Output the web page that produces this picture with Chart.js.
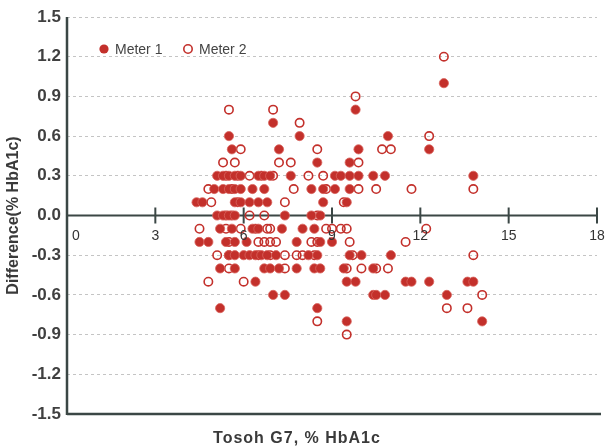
<!DOCTYPE html>
<html>
<head>
<meta charset="utf-8">
<script src="https://cdn.jsdelivr.net/npm/chart.js@4.4.1/dist/chart.umd.min.js"></script>
<style>
  html, body { margin: 0; padding: 0; background: #fff; }
  #wrap { width: 605px; height: 448px; }
</style>
</head>
<body>
<div id="wrap"><canvas id="diffChart" width="605" height="448"></canvas></div>
<script>
// --- Data (rows of 0.1 %HbA1c) ---
const xTicks = [0, 3, 6, 9, 12, 15, 18];
const yTicks = [-1.5, -1.2, -0.9, -0.6, -0.3, 0, 0.3, 0.6, 0.9, 1.2, 1.5];
const seriesNames = ['Meter 1', 'Meter 2'];

const meter1X = [
  12.8,
  9.8,
  7.0,
  5.5, 7.9, 10.9,
  5.6, 7.2, 9.9, 12.3,
  8.5, 9.6,
  5.1, 5.3, 5.5, 5.7, 5.9, 6.5, 6.7, 6.9, 7.6, 9.1, 9.3, 9.6, 9.9, 10.4, 10.8, 13.8,
  5.0, 5.3, 5.5, 5.7, 5.9, 6.3, 6.7, 8.3, 8.7, 9.1, 9.6,
  4.4, 4.6, 5.7, 5.9, 6.2, 6.5, 6.8, 8.7, 9.5,
  5.1, 5.3, 5.5, 5.7, 7.4, 8.3, 8.6,
  5.2, 5.6, 6.3, 6.5, 7.3, 8.0, 8.4,
  4.5, 4.8, 5.4, 5.7, 6.1, 7.8, 8.6, 9.0,
  5.5, 5.7, 6.0, 6.2, 6.4, 6.6, 6.8, 7.1, 8.2, 8.5, 9.6, 10.0, 11.0,
  5.2, 5.7, 6.7, 6.9, 7.2, 7.8, 8.4, 8.6, 9.4, 10.4,
  6.4, 9.5, 9.8, 11.5, 11.7, 12.3, 13.6, 13.8,
  7.0, 7.4, 10.4, 10.5, 10.8, 12.9,
  5.2, 8.5,
  9.5, 14.1
];
const meter1Y = [
  1.0,
  0.8,
  0.7,
  0.6, 0.6, 0.6,
  0.5, 0.5, 0.5, 0.5,
  0.4, 0.4,
  0.3, 0.3, 0.3, 0.3, 0.3, 0.3, 0.3, 0.3, 0.3, 0.3, 0.3, 0.3, 0.3, 0.3, 0.3, 0.3,
  0.2, 0.2, 0.2, 0.2, 0.2, 0.2, 0.2, 0.2, 0.2, 0.2, 0.2,
  0.1, 0.1, 0.1, 0.1, 0.1, 0.1, 0.1, 0.1, 0.1,
  0.0, 0.0, 0.0, 0.0, 0.0, 0.0, 0.0,
  -0.1, -0.1, -0.1, -0.1, -0.1, -0.1, -0.1,
  -0.2, -0.2, -0.2, -0.2, -0.2, -0.2, -0.2, -0.2,
  -0.3, -0.3, -0.3, -0.3, -0.3, -0.3, -0.3, -0.3, -0.3, -0.3, -0.3, -0.3, -0.3,
  -0.4, -0.4, -0.4, -0.4, -0.4, -0.4, -0.4, -0.4, -0.4, -0.4,
  -0.5, -0.5, -0.5, -0.5, -0.5, -0.5, -0.5, -0.5,
  -0.6, -0.6, -0.6, -0.6, -0.6, -0.6,
  -0.7, -0.7,
  -0.8, -0.8
];

const meter2X = [
  12.8,
  9.8,
  5.5, 7.0,
  7.9,
  12.3,
  5.9, 8.5, 10.7, 11.0,
  5.3, 5.7, 7.2, 7.6, 9.9,
  5.4, 5.8, 6.2, 6.6, 7.0, 8.2, 8.7,
  4.8, 5.6, 7.7, 8.8, 9.9, 10.5, 11.7, 13.8,
  4.9, 5.8, 7.4, 9.4,
  5.4, 5.6, 6.2, 6.7, 8.5,
  4.5, 5.4, 5.9, 6.4, 6.8, 6.9, 8.8, 9.0, 9.3, 9.5, 12.2,
  5.5, 6.5, 6.7, 6.9, 7.1, 8.3, 8.5, 9.6, 11.5,
  5.1, 5.5, 6.5, 6.9, 7.4, 7.8, 8.0, 8.4, 9.7, 13.8,
  5.5, 7.4, 9.5, 10.0, 10.5, 10.9,
  4.8, 6.0,
  14.1,
  12.9, 13.6,
  8.5,
  9.5
];
const meter2Y = [
  1.2,
  0.9,
  0.8, 0.8,
  0.7,
  0.6,
  0.5, 0.5, 0.5, 0.5,
  0.4, 0.4, 0.4, 0.4, 0.4,
  0.3, 0.3, 0.3, 0.3, 0.3, 0.3, 0.3,
  0.2, 0.2, 0.2, 0.2, 0.2, 0.2, 0.2, 0.2,
  0.1, 0.1, 0.1, 0.1,
  0.0, 0.0, 0.0, 0.0, 0.0,
  -0.1, -0.1, -0.1, -0.1, -0.1, -0.1, -0.1, -0.1, -0.1, -0.1, -0.1,
  -0.2, -0.2, -0.2, -0.2, -0.2, -0.2, -0.2, -0.2, -0.2,
  -0.3, -0.3, -0.3, -0.3, -0.3, -0.3, -0.3, -0.3, -0.3, -0.3,
  -0.4, -0.4, -0.4, -0.4, -0.4, -0.4,
  -0.5, -0.5,
  -0.6,
  -0.7, -0.7,
  -0.8,
  -0.9
];

const RED = '#c3302b';
const AXIS = '#3b4745';
const FONT = '"Liberation Sans", Arial, sans-serif';

const toPoints = (xs, ys) => xs.map((x, i) => ({ x: x, y: ys[i] }));

// axis line at y=0 with crossing ticks, left axis, bottom frame, tick labels, legend, x title
const axesPlugin = {
  id: 'axesPlugin',
  beforeDatasetsDraw(chart) {
    const { ctx, chartArea: a, scales: { x, y } } = chart;
    const y0 = y.getPixelForValue(0);
    ctx.save();
    ctx.strokeStyle = AXIS;
    ctx.lineCap = 'butt';

    // left axis
    ctx.lineWidth = 2.5;
    ctx.beginPath();
    ctx.moveTo(a.left, a.top);
    ctx.lineTo(a.left, a.bottom + 1);
    ctx.stroke();

    // bottom frame (-1.5)
    ctx.lineWidth = 2.5;
    ctx.beginPath();
    ctx.moveTo(a.left, a.bottom);
    ctx.lineTo(a.right + 4, a.bottom);
    ctx.stroke();

    // zero line
    ctx.lineWidth = 2;
    ctx.beginPath();
    ctx.moveTo(a.left, y0);
    ctx.lineTo(a.right, y0);
    ctx.stroke();

    // crossing ticks
    xTicks.forEach(v => {
      if (v === 0) return;
      const px = x.getPixelForValue(v);
      ctx.beginPath();
      ctx.moveTo(px, y0 - 8);
      ctx.lineTo(px, y0 + 8);
      ctx.stroke();
    });
    ctx.restore();
  },
  afterDraw(chart) {
    const { ctx, scales: { x, y } } = chart;
    const y0 = y.getPixelForValue(0);
    ctx.save();

    // x tick labels just under the zero line
    ctx.font = '14px ' + FONT;
    ctx.fillStyle = '#333';
    ctx.textAlign = 'center';
    ctx.textBaseline = 'middle';
    xTicks.forEach(v => {
      const px = x.getPixelForValue(v) + (v === 0 ? 9 : 0);
      ctx.fillText(String(v), px, y0 + 21);
    });

    // legend
    const ds = chart.data.datasets;
    const legendItems = [{ cx: 104, tx: 115 }, { cx: 188, tx: 199 }];
    ctx.font = '14px ' + FONT;
    ctx.textAlign = 'left';
    ctx.fillStyle = '#444';
    legendItems.forEach((it, i) => {
      ctx.beginPath();
      ctx.arc(it.cx, 49, i === 0 ? 4.6 : 4.2, 0, Math.PI * 2);
      if (i === 0) {
        ctx.fillStyle = RED;
        ctx.fill();
      } else {
        ctx.lineWidth = 1.6;
        ctx.strokeStyle = RED;
        ctx.stroke();
      }
      ctx.fillStyle = '#444';
      ctx.fillText(ds[i].label, it.tx, 50);
    });

    // x title
    ctx.font = 'bold 16px ' + FONT;
    ctx.fillStyle = '#3a3a3a';
    ctx.textAlign = 'center';
    if ('letterSpacing' in ctx) ctx.letterSpacing = '1px';
    ctx.fillText('Tosoh G7, % HbA1c', 297, 439);
    ctx.restore();
  }
};

const canvas = document.getElementById('diffChart');
new Chart(canvas.getContext('2d'), {
  type: 'scatter',
  data: {
    datasets: [
      {
        label: seriesNames[0],
        data: toPoints(meter1X, meter1Y),
        pointRadius: 4.6,
        pointHoverRadius: 4.6,
        pointBackgroundColor: RED,
        pointBorderColor: '#d9645e',
        pointBorderWidth: 0.8
      },
      {
        label: seriesNames[1],
        data: toPoints(meter2X, meter2Y),
        pointRadius: 4.2,
        pointHoverRadius: 4.2,
        pointBackgroundColor: 'rgba(255,255,255,0)',
        pointBorderColor: RED,
        pointBorderWidth: 1.6
      }
    ]
  },
  options: {
    responsive: false,
    animation: false,
    layout: { padding: { top: 17, right: 8, bottom: 34, left: 0 } },
    plugins: {
      legend: { display: false },
      tooltip: { enabled: false }
    },
    scales: {
      x: {
        type: 'linear',
        min: 0,
        max: 18,
        display: false
      },
      y: {
        type: 'linear',
        min: -1.5,
        max: 1.5,
        afterFit: s => { s.width = 67; },
        afterBuildTicks: s => { s.ticks = yTicks.map(v => ({ value: v })); },
        ticks: {
          callback: v => Number(v).toFixed(1),
          font: { family: FONT, size: 17, weight: 'bold' },
          color: '#404040',
          padding: 6
        },
        grid: {
          drawTicks: false,
          lineWidth: 1,
          color: c => (c.tick && (c.tick.value === 0 || c.tick.value === -1.5)) ? 'rgba(0,0,0,0)' : '#c4c4c4'
        },
        border: { display: false, dash: [3, 3] },
        title: {
          display: true,
          text: 'Difference(% HbA1c)',
          font: { family: FONT, size: 16, weight: 'bold' },
          color: '#3a3a3a',
          padding: { top: 4, bottom: 0 }
        }
      }
    }
  },
  plugins: [axesPlugin]
});
</script>
</body>
</html>
